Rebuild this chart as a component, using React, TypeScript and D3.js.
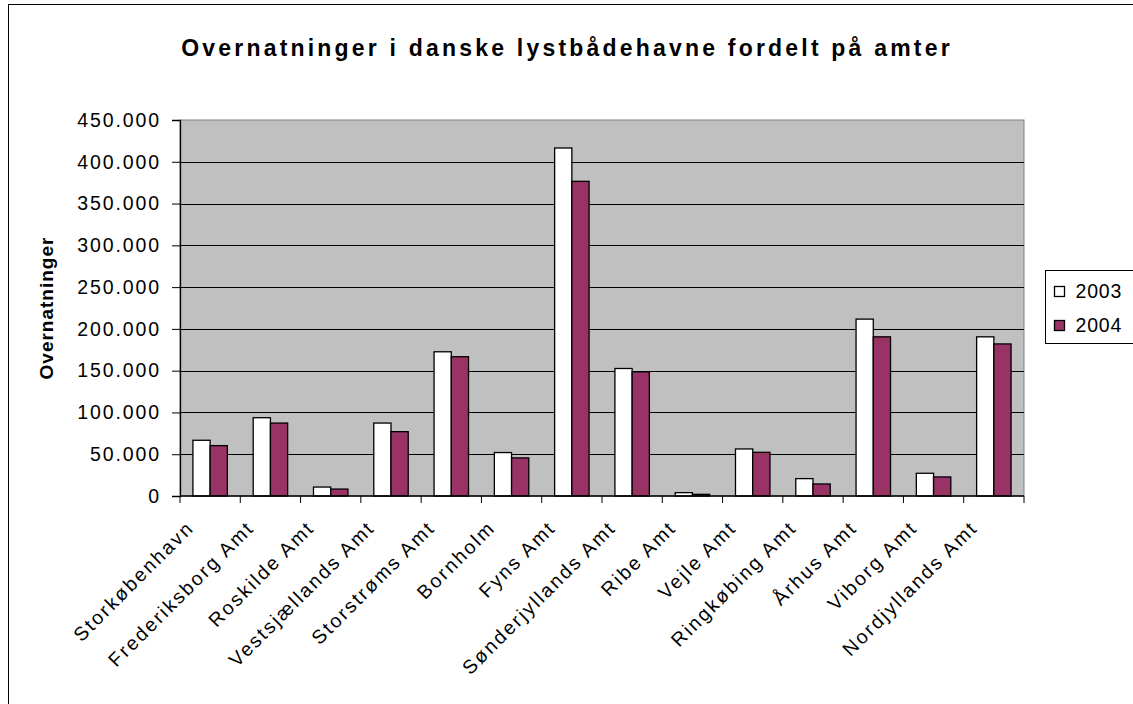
import React, { useRef, useEffect } from "react";
import * as d3 from "d3";

const categories = [
  "Storkøbenhavn",
  "Frederiksborg Amt",
  "Roskilde Amt",
  "Vestsjællands Amt",
  "Storstrøms Amt",
  "Bornholm",
  "Fyns Amt",
  "Sønderjyllands Amt",
  "Ribe Amt",
  "Vejle Amt",
  "Ringkøbing Amt",
  "Århus Amt",
  "Viborg Amt",
  "Nordjyllands Amt",
];
const values2003 = [66700, 93700, 10700, 87300, 172600, 52000, 416500, 152600, 4000, 56300, 20800, 211700, 27200, 190500];
const values2004 = [60300, 87300, 8300, 77000, 166700, 45600, 376600, 148600, 2000, 52300, 14400, 190500, 22800, 182000];
const seriesNames = ["2003", "2004"];
const seriesColors = ["#FFFFFF", "#993366"];
const yTicks = [0, 50000, 100000, 150000, 200000, 250000, 300000, 350000, 400000, 450000];

const width = 1133;
const height = 704;
const margin = { top: 120, bottom: 208, left: 180, right: 109 };
const plotWidth = width - margin.left - margin.right;
const plotHeight = height - margin.top - margin.bottom;
const font = "Arial, 'Liberation Sans', sans-serif";

const fmt = (v: number) => (v === 0 ? "0" : d3.format(",")(v).replace(/,/g, "."));

const App = () => {
  const svgRef = useRef<SVGSVGElement>(null);

  useEffect(() => {
    if (!svgRef.current) return;
    const svg = d3.select(svgRef.current);
    svg.selectAll("*").remove();

    const rows = categories.map((c, i) => ({ cat: c, vals: [values2003[i], values2004[i]] }));

    const x = d3.scaleBand<string>(categories, [0, plotWidth]);
    const bw = x.bandwidth() / 3.5;
    const xs = d3.scaleBand<string>(seriesNames, [0, bw * 2]);
    const y = d3.scaleLinear([0, 450000], [plotHeight, 0]);

    // outer chart frame
    svg
      .append("rect")
      .attr("x", 8.5)
      .attr("y", 4.5)
      .attr("width", width + 10)
      .attr("height", height + 10)
      .attr("fill", "white")
      .attr("stroke", "black")
      .attr("stroke-width", 1);

    svg
      .append("text")
      .attr("x", 567)
      .attr("y", 56)
      .attr("text-anchor", "middle")
      .attr("font-family", font)
      .attr("font-size", 23)
      .attr("font-weight", "bold")
      .attr("letter-spacing", 3.2)
      .text("Overnatninger i danske lystbådehavne fordelt på amter");

    const plot = svg.append("g").attr("transform", `translate(${margin.left}, ${margin.top})`);

    plot
      .append("rect")
      .attr("width", plotWidth)
      .attr("height", plotHeight)
      .attr("fill", "#C0C0C0")
      .attr("stroke", "#808080")
      .attr("stroke-width", 1);

    plot
      .append("g")
      .selectAll("line")
      .data(yTicks.slice(1, -1))
      .join("line")
      .attr("x1", 0)
      .attr("x2", plotWidth)
      .attr("y1", (d) => Math.round(y(d)) + 0.5)
      .attr("y2", (d) => Math.round(y(d)) + 0.5)
      .attr("stroke", "black")
      .attr("stroke-width", 1);

    // bars
    plot
      .append("g")
      .selectAll("g")
      .data(rows)
      .join("g")
      .attr("transform", (r) => `translate(${x(r.cat)! + bw * 0.75}, 0)`)
      .selectAll("rect")
      .data((r) => r.vals.map((v, i) => ({ v, s: seriesNames[i], i })))
      .join("rect")
      .attr("x", (d) => xs(d.s)!)
      .attr("y", (d) => y(d.v))
      .attr("width", xs.bandwidth())
      .attr("height", (d) => plotHeight - y(d.v))
      .attr("fill", (d) => seriesColors[d.i])
      .attr("stroke", "black")
      .attr("stroke-width", 1.3);

    // y axis
    const yAxis = plot.append("g").call(d3.axisLeft(y).tickValues(yTicks).tickSize(8).tickFormat((d) => fmt(+d)));
    yAxis.select(".domain").attr("stroke", "black").attr("stroke-width", 1.3);
    yAxis
      .selectAll("text")
      .attr("font-family", font)
      .attr("font-size", 19.5)
      .attr("letter-spacing", 1.9)
      .attr("fill", "black")
      .attr("x", -19);

    // x axis
    const xAxisG = plot.append("g").attr("transform", `translate(0, ${plotHeight})`);
    xAxisG
      .append("line")
      .attr("x1", 0)
      .attr("x2", plotWidth)
      .attr("stroke", "black")
      .attr("stroke-width", 1.3);
    xAxisG
      .selectAll("line.tick")
      .data([...categories.map((c) => x(c)!), plotWidth])
      .join("line")
      .attr("class", "tick")
      .attr("x1", (d) => d)
      .attr("x2", (d) => d)
      .attr("y1", 0)
      .attr("y2", 7)
      .attr("stroke", "black");
    xAxisG
      .selectAll("text")
      .data(categories)
      .join("text")
      .attr("transform", (c) => `translate(${x(c)! + x.bandwidth() / 2 - 15}, 33) rotate(-45)`)
      .attr("text-anchor", "end")
      .attr("font-family", font)
      .attr("font-size", 19.5)
      .attr("letter-spacing", 2.2)
      .text((c) => c);

    // y title
    svg
      .append("text")
      .attr("transform", `translate(53, ${margin.top + plotHeight / 2}) rotate(-90)`)
      .attr("text-anchor", "middle")
      .attr("font-family", font)
      .attr("font-size", 19)
      .attr("font-weight", "bold")
      .attr("letter-spacing", 1)
      .text("Overnatninger");

    // legend
    const legend = svg.append("g").attr("transform", "translate(1045.5, 270.5)");
    legend
      .append("rect")
      .attr("width", 88)
      .attr("height", 73)
      .attr("fill", "white")
      .attr("stroke", "black");
    seriesNames.forEach((s, i) => {
      legend
        .append("rect")
        .attr("x", 9)
        .attr("y", 16 + i * 34)
        .attr("width", 10)
        .attr("height", 10)
        .attr("fill", seriesColors[i])
        .attr("stroke", "black")
        .attr("stroke-width", 1.3);
      legend
        .append("text")
        .attr("x", 30)
        .attr("y", 27 + i * 34)
        .attr("font-family", font)
        .attr("font-size", 19.5)
        .attr("letter-spacing", 0.8)
        .text(s);
    });
  }, []);

  return (
    <svg
      ref={svgRef}
      width={width}
      height={height}
      style={{ position: "absolute", left: 0, top: 0, background: "white" }}
    />
  );
};

export default App;
